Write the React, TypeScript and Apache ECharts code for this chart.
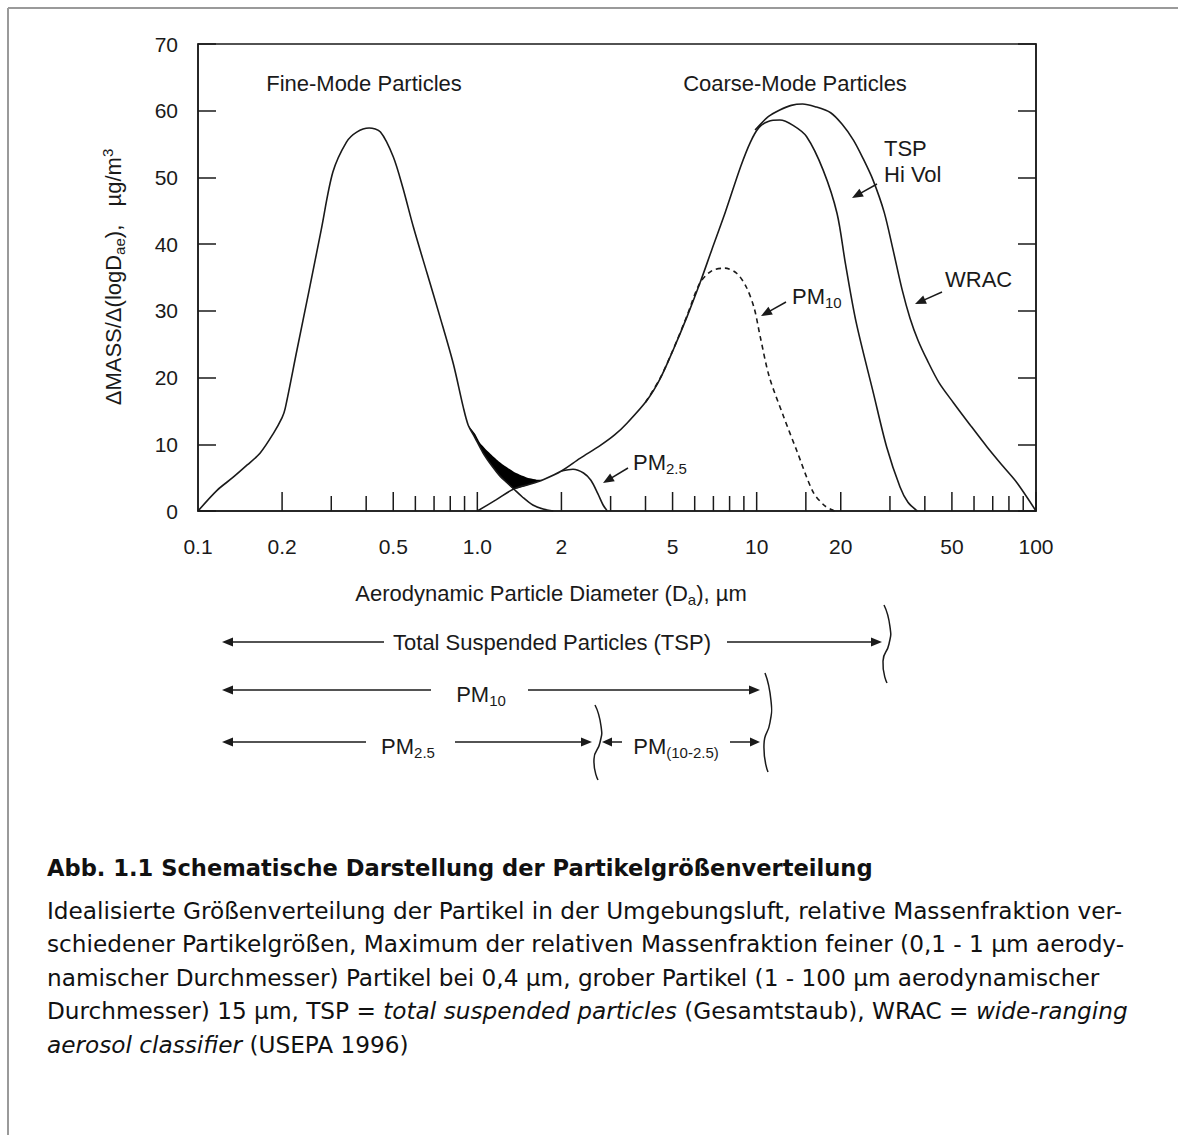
import React, { useEffect, useRef } from "react";
import * as echarts from "echarts";

// ---------- data ----------
const fineMode: number[][] = [
  [0.1, 0], [0.117, 3.1], [0.134, 5.1], [0.15, 6.9], [0.167, 8.7], [0.186, 11.6], [0.2, 14.0],
  [0.205, 15.3], [0.226, 24.1], [0.25, 33.1], [0.276, 42.1], [0.304, 50.8], [0.34, 55.3],
  [0.37, 56.8], [0.41, 57.4], [0.45, 56.8], [0.5, 53.1], [0.54, 48.6], [0.59, 42.6],
  [0.66, 35.7], [0.735, 29.1], [0.82, 22.1], [0.89, 15.6], [0.927, 12.9], [0.98, 11.0], [1.05, 8.65],
  [1.13, 6.7], [1.21, 5.15], [1.28, 4.2], [1.35, 3.3], [1.45, 2.1], [1.58, 0.9], [1.72, 0.3], [1.87, 0],
];
const tspHiVol: number[][] = [
  [1.0, 0], [1.17, 1.7], [1.35, 3.3], [1.54, 4.0], [1.72, 4.7], [2.0, 6.0], [2.33, 7.9], [2.75, 9.8],
  [3.1, 11.4], [3.44, 13.2], [4.05, 16.6], [4.51, 19.8], [5.02, 24.1], [5.63, 29.1], [6.27, 34.2],
  [6.9, 39.1], [7.71, 44.7], [8.76, 51.6], [9.5, 55.3], [10.2, 57.5], [11.0, 58.4], [12.1, 58.6],
  [13.5, 57.8], [15.1, 56.1], [17.3, 51.1], [19.4, 44.6], [20.8, 37.0], [22.7, 28.3], [26.2, 17.6],
  [29.2, 9.6], [32.6, 3.6], [34.8, 1.3], [37.6, 0],
];
const wrac: number[][] = [
  [9.87, 57.1], [11.0, 59.1], [12.1, 60.1], [13.3, 60.8], [14.6, 61.0], [16.2, 60.6], [18.4, 59.7],
  [20.2, 58.0], [22.2, 55.6], [24.0, 52.9], [26.1, 49.6], [28.6, 44.8], [30.8, 39.1], [33.2, 33.1],
  [35.4, 28.9], [37.8, 25.6], [40.8, 22.6], [45.0, 19.2], [50.7, 16.2], [58.1, 12.9], [66.8, 9.6],
  [76.2, 6.7], [85.6, 4.2], [100, 0],
];
const pm10: number[][] = [
  [4.0, 16.3], [4.5, 19.8], [5.0, 24.0], [5.6, 29.0], [6.25, 34.1], [6.9, 36.0], [7.7, 36.4],
  [8.5, 35.6], [9.2, 33.5], [9.8, 30.4], [10.3, 26.1], [11.1, 20.1], [12.5, 14.1], [13.9, 9.1],
  [15.9, 2.9], [17.5, 0.8], [19.0, 0],
];
const pm25: number[][] = [
  [2.0, 6.0], [2.2, 6.25], [2.4, 5.7], [2.55, 4.6], [2.7, 2.6], [2.82, 0.9], [2.92, 0],
];
// overlap (black) region: upper = total curve, lower = fine tail then coarse rise
const overlapUpper: number[][] = [
  [0.927, 12.9], [0.98, 11.6], [1.023, 10.2], [1.1, 8.8], [1.177, 7.65], [1.26, 6.7], [1.35, 5.9],
  [1.45, 5.3], [1.54, 4.9], [1.63, 4.7], [1.72, 4.7],
];
const overlapLower: number[][] = [
  [0.927, 12.9], [0.98, 11.0], [1.05, 8.65], [1.13, 6.7], [1.21, 5.15], [1.28, 4.2], [1.35, 3.3],
  [1.54, 4.0], [1.72, 4.7],
];

const xLabelValues = [0.1, 0.2, 0.5, 1, 2, 5, 10, 20, 50, 100];
const xLabelTexts = ["0.1", "0.2", "0.5", "1.0", "2", "5", "10", "20", "50", "100"];
const xMajorTicks = [0.2, 0.5, 1, 2, 5, 10, 15, 20, 50, 100];
const xMinorTicks = [0.3, 0.4, 0.6, 0.7, 0.8, 0.9, 3, 4, 6, 7, 8, 9, 30, 40, 60, 70, 80, 90];

const captionTitle = "Abb. 1.1 Schematische Darstellung der Partikelgrößenverteilung";
const captionLines = [
  "{n|Idealisierte Größenverteilung der Partikel in der Umgebungsluft, relative Massenfraktion ver-}",
  "{n|schiedener Partikelgrößen, Maximum der relativen Massenfraktion feiner (0,1 - 1 µm aerody-}",
  "{n|namischer Durchmesser) Partikel bei 0,4 µm, grober Partikel (1 - 100 µm aerodynamischer}",
  "{n|Durchmesser) 15 µm, TSP = }{i|total suspended particles}{n| (Gesamtstaub), WRAC = }{i|wide-ranging}",
  "{i|aerosol classifier}{n| (USEPA 1996)}",
];

// ---------- styles ----------
const INK = "#1a1a1a";
const FONT = "'Liberation Sans', Arial, sans-serif";
const CAP_FONT = "'DejaVu Sans', sans-serif";
const CAP_FS = 23.2;
const CAP_TITLE_FS = 22.6;
const FS = 22;

function txt(x: number, y: number, text: string, extra: any = {}) {
  return {
    type: "text", x, y, z: 50, silent: true,
    style: { text, fill: INK, fontFamily: FONT, fontSize: FS, align: "center", verticalAlign: "middle", ...extra },
  };
}
function subRich(main = FS, sub = 15) {
  return {
    a: { fontSize: main, fontFamily: FONT, fill: INK, lineHeight: 27, verticalAlign: "middle" },
    s: { fontSize: sub, fontFamily: FONT, fill: INK, lineHeight: sub, verticalAlign: "bottom" },
    p: { fontSize: sub, fontFamily: FONT, fill: INK, lineHeight: sub, verticalAlign: "top" },
  };
}
function arrow(x1: number, y1: number, x2: number, y2: number, head = 11, w = 4.5) {
  const dx = x2 - x1, dy = y2 - y1;
  const L = Math.hypot(dx, dy);
  const ux = dx / L, uy = dy / L;
  const bx = x2 - ux * head, by = y2 - uy * head;
  return [
    { type: "line", z: 50, silent: true, shape: { x1, y1, x2: bx + ux * 2, y2: by + uy * 2 }, style: { stroke: INK, lineWidth: 1.5 } },
    {
      type: "polygon", z: 50, silent: true,
      shape: { points: [[x2, y2], [bx - uy * w, by + ux * w], [bx + uy * w, by - ux * w]] },
      style: { fill: INK },
    },
  ];
}
function brace(x: number, top: number, bottom: number) {
  const h = bottom - top;
  return {
    type: "polyline", z: 50, silent: true,
    shape: {
      points: [[x - 2, top], [x + 4, top + 0.28 * h], [x + 3, top + 0.5 * h], [x - 3, top + 0.72 * h], [x + 1, bottom]],
      smooth: 0.6,
    },
    style: { stroke: INK, lineWidth: 1.5, fill: null },
  };
}

export default function App() {
  const ref = useRef<HTMLDivElement>(null);

  useEffect(() => {
    if (!ref.current) return;
    const chart = echarts.init(ref.current, null, { renderer: "svg" });

    const lineStyle = { color: INK, width: 1.6 };
    const baseLine = {
      type: "line", smooth: 0.3, showSymbol: false, symbol: "none", silent: true, z: 5,
      lineStyle, itemStyle: { color: INK },
    };

    const graphics: any[] = [
      // page frame
      { type: "line", shape: { x1: 8, y1: 8, x2: 1178, y2: 8 }, style: { stroke: "#9a9a9a", lineWidth: 2 } },
      { type: "line", shape: { x1: 8, y1: 8, x2: 8, y2: 1135 }, style: { stroke: "#9a9a9a", lineWidth: 2 } },
      // y axis title
      {
        type: "text", x: 113, y: 277, rotation: Math.PI / 2, z: 50, silent: true,
        style: {
          text: "{a|ΔMASS/Δ(logD}{s|ae}{a|),   µg/m}{p|3}", rich: subRich(FS, 15),
          align: "center", verticalAlign: "middle",
        },
      },
      // x axis title
      {
        type: "text", x: 551, y: 593, z: 50, silent: true,
        style: { text: "{a|Aerodynamic Particle Diameter (D}{s|a}{a|), µm}", rich: subRich(FS, 15), align: "center", verticalAlign: "middle" },
      },
      txt(364, 83, "Fine-Mode Particles"),
      txt(795, 83, "Coarse-Mode Particles"),
      txt(884, 148, "TSP", { align: "left" }),
      txt(884, 174, "Hi Vol", { align: "left" }),
      ...arrow(877, 184, 852, 198),
      txt(945, 279, "WRAC", { align: "left" }),
      ...arrow(942, 292, 915, 304),
      { type: "text", x: 792, y: 296, z: 50, silent: true, style: { text: "{a|PM}{s|10}", rich: subRich(), align: "left", verticalAlign: "middle" } },
      ...arrow(786, 302, 761, 316),
      { type: "text", x: 633, y: 462, z: 50, silent: true, style: { text: "{a|PM}{s|2.5}", rich: subRich(), align: "left", verticalAlign: "middle" } },
      ...arrow(628, 468, 603, 483),
      // size-fraction ranges
      ...arrow(384, 642, 222, 642),
      txt(552, 642, "Total Suspended Particles (TSP)"),
      ...arrow(727, 642, 882, 642),
      brace(886, 605, 683),
      ...arrow(431, 690, 222, 690),
      { type: "text", x: 481, y: 694, z: 50, silent: true, style: { text: "{a|PM}{s|10}", rich: subRich(), align: "center", verticalAlign: "middle" } },
      ...arrow(528, 690, 760, 690),
      brace(767, 673, 772),
      ...arrow(366, 742, 222, 742),
      { type: "text", x: 408, y: 746, z: 50, silent: true, style: { text: "{a|PM}{s|2.5}", rich: subRich(), align: "center", verticalAlign: "middle" } },
      ...arrow(455, 742, 592, 742),
      brace(597, 705, 780),
      ...arrow(622, 742, 602, 742, 10, 4.5),
      { type: "text", x: 676, y: 746, z: 50, silent: true, style: { text: "{a|PM}{s|(10-2.5)}", rich: subRich(), align: "center", verticalAlign: "middle" } },
      ...arrow(730, 742, 760, 742, 10, 4.5),
      // caption
      {
        type: "text", x: 47, y: 868, z: 50, silent: true,
        style: { text: captionTitle, fontFamily: CAP_FONT, fontSize: CAP_TITLE_FS, fontWeight: "bold", fill: "#111", align: "left", verticalAlign: "middle" },
      },
      ...captionLines.map((t, i) => ({
        type: "text", x: 47, y: 910 + i * 33.6, z: 50, silent: true,
        style: {
          text: t, align: "left", verticalAlign: "middle",
          rich: {
            n: { fontFamily: CAP_FONT, fontSize: CAP_FS, fill: "#111" },
            i: { fontFamily: CAP_FONT, fontSize: CAP_FS, fill: "#111", fontStyle: "italic" },
          },
        },
      })),
    ];

    const tickSeries = (values: number[], len: number) => ({
      type: "custom", silent: true, clip: false, z: 6,
      data: values.map((v) => [v, 0]),
      renderItem: (_p: any, api: any) => {
        const pt = api.coord([api.value(0), 0]);
        return {
          type: "line",
          shape: { x1: pt[0], y1: pt[1], x2: pt[0], y2: pt[1] - len },
          style: { stroke: INK, lineWidth: 1.5 },
        };
      },
    });

    chart.setOption({
      animation: false,
      backgroundColor: "#ffffff",
      grid: {
        left: 198, top: 44, width: 838, height: 467,
        show: true, borderColor: INK, borderWidth: 1.5, backgroundColor: "transparent",
      },
      xAxis: {
        type: "log", logBase: 10, min: 0.1, max: 100,
        axisLine: { show: true, lineStyle: { color: INK, width: 1.5 } },
        axisTick: { show: false }, axisLabel: { show: false }, splitLine: { show: false },
      },
      yAxis: [
        {
          type: "value", min: 0, max: 70, interval: 10,
          axisLine: { show: true, lineStyle: { color: INK, width: 1.5 } },
          axisTick: { show: true, inside: true, length: 18, lineStyle: { color: INK, width: 1.5 } },
          axisLabel: { fontSize: 21, fontFamily: FONT, color: INK, margin: 20 },
          splitLine: { show: false },
        },
        {
          type: "value", min: 0, max: 70, interval: 10, position: "right",
          axisLine: { show: true, lineStyle: { color: INK, width: 1.5 } },
          axisTick: { show: true, inside: true, length: 18, lineStyle: { color: INK, width: 1.5 } },
          axisLabel: { show: false }, splitLine: { show: false },
        },
      ],
      series: [
        {
          type: "custom", silent: true, z: 4,
          data: [[1, 0]],
          renderItem: (_p: any, api: any) => {
            const up = overlapUpper.map((p) => api.coord(p));
            const lo = overlapLower.map((p) => api.coord(p)).reverse();
            return { type: "polygon", shape: { points: up.concat(lo), smooth: 0.2 }, style: { fill: "#000" } };
          },
        },
        { ...baseLine, name: "Fine mode", data: fineMode },
        { ...baseLine, name: "TSP Hi Vol", data: tspHiVol },
        { ...baseLine, name: "WRAC", data: wrac },
        { ...baseLine, name: "PM10", data: pm10, lineStyle: { color: INK, width: 1.6, type: [5, 4] } },
        { ...baseLine, name: "PM2.5", data: pm25 },
        tickSeries(xMajorTicks, 19),
        tickSeries(xMinorTicks, 15),
        {
          type: "custom", silent: true, clip: false, z: 6,
          data: xLabelValues.map((v) => [v, 0]),
          renderItem: (p: any, api: any) => {
            const pt = api.coord([api.value(0), 0]);
            return {
              type: "text", x: pt[0], y: pt[1] + 35,
              style: {
                text: xLabelTexts[p.dataIndex], fill: INK, fontFamily: FONT, fontSize: 21,
                align: "center", verticalAlign: "middle",
              },
            };
          },
        },
      ],
      graphic: { elements: graphics },
    });

    return () => chart.dispose();
  }, []);

  return (
    <div style={{ position: "absolute", left: 0, top: 0, width: 1178, height: 1135, background: "#fff" }}>
      <div ref={ref} style={{ width: 1178, height: 1135 }} />
    </div>
  );
}
